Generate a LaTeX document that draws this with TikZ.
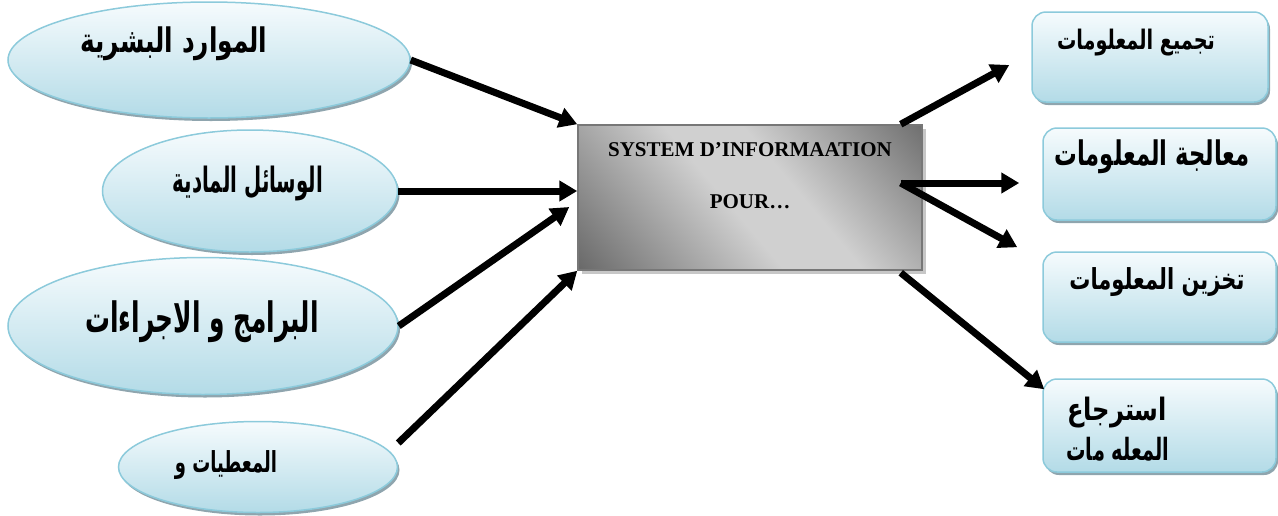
\documentclass[tikz,border=0pt]{standalone}
\usepackage{fontspec}
\usepackage{graphicx}
\setmainfont{Liberation Serif}
\newfontfamily\arabicfont[Script=Arabic]{DejaVu Sans}
\TeXXeTstate=1
\usetikzlibrary{shapes.geometric,arrows.meta,shadows,calc}
\definecolor{bord}{HTML}{8CCADB}
\definecolor{ltop}{HTML}{F6FBFD}
\definecolor{lbot}{HTML}{B3DBE7}
\definecolor{shad}{HTML}{8FA5AE}
\definecolor{sysdark}{HTML}{666666}
\definecolor{syslight}{HTML}{D0D0D0}
\definecolor{sysbord}{HTML}{777777}
\pgfdeclarehorizontalshading{sysgrad}{100bp}{color(0bp)=(sysdark); color(14bp)=(sysdark); color(46bp)=(syslight); color(58bp)=(syslight); color(88bp)=(sysdark); color(100bp)=(sysdark)}
\newcommand\arbox[3]{\resizebox*{#1pt}{#2pt}{\arabicfont\bfseries #3}}
\tikzset{
  bubble/.style={ellipse, draw=bord, line width=1.5pt, top color=ltop, bottom color=lbot,
    inner sep=0pt, drop shadow={shadow xshift=2pt, shadow yshift=-3pt, fill=shad, opacity=1}},
  card/.style={rectangle, rounded corners=14pt, draw=bord, line width=1.5pt, top color=ltop,
    bottom color=lbot, inner sep=0pt, drop shadow={shadow xshift=2pt, shadow yshift=-3pt, fill=shad, opacity=1}},
  sysbox/.style={rectangle, draw=sysbord, line width=1.5pt, inner sep=0pt,
    shading=sysgrad, shading angle=40,
    drop shadow={shadow xshift=4pt, shadow yshift=-4pt, fill=black!22, opacity=1}},
  flow/.style={line width=7pt, -{Triangle[length=18pt,width=20pt]}},
  lab/.style={inner sep=0pt},
}
\begin{document}
\begin{tikzpicture}[x=1pt,y=-1pt]
\useasboundingbox (0,0) rectangle (1278,515);
% left ellipses
\node[bubble, minimum width=402pt, minimum height=116pt] (e1) at (209,60) {};
\node[bubble, minimum width=295pt, minimum height=122pt] (e2) at (250,191) {};
\node[bubble, minimum width=390pt, minimum height=137pt] (e3) at (203,326) {};
\node[bubble, minimum width=279pt, minimum height=91pt] (e4) at (258,467) {};
\node[lab] (t1) at (174,44) {\arbox{187}{34}{\beginR الموارد البشرية\endR}};
\node[lab] (t2) at (248,184) {\arbox{150}{35}{\beginR الوسائل المادية\endR}};
\node[lab] (t3) at (202,322) {\arbox{233}{42}{\beginR البرامج و الاجراءات\endR}};
\node[lab] (t4) at (226,465) {\arbox{102}{29}{\beginR المعطيات و\endR}};
% central box
\node[sysbox, minimum width=344pt, minimum height=145pt] (sys) at (750,197.5) {};
\node[lab, align=center, font=\bfseries\fontsize{21}{25}\selectfont] (systxt) at (750,176)
  {SYSTEM D’INFORMAATION\\[27pt]POUR…};
% right boxes
\node[card, minimum width=236pt, minimum height=90pt] (b1) at (1150,57) {};
\node[card, minimum width=233pt, minimum height=92pt] (b2) at (1159.5,174) {};
\node[card, minimum width=233pt, minimum height=90pt] (b3) at (1159.5,297) {};
\node[card, minimum width=233pt, minimum height=93pt] (b4) at (1159.5,425.5) {};
\node[lab] (s1) at (1136,43) {\arbox{158}{27}{\beginR تجميع المعلومات\endR}};
\node[lab] (s2) at (1152,157) {\arbox{195}{34}{\beginR معالجة المعلومات\endR}};
\node[lab] (s3) at (1157,282) {\arbox{175}{29}{\beginR تخزين المعلومات\endR}};
\node[lab] (s4a) at (1117,413) {\arbox{100}{31}{\beginR استرجاع\endR}};
\node[lab] (s4b) at (1118,449) {\arbox{103}{24}{\beginR المعله مات\endR}};
% connectors in
\draw[flow] (e1.east) -- (sys.north west);
\draw[flow] (e2.east) -- (e2.east -| sys.west);
\draw[flow] (e3.east) -- ($(sys.west)+(-8,9.5)$);
\draw[flow] ($(e4.east)+(0,-24)$) -- (sys.south west);
% connectors out
\coordinate (hub) at ($(sys.east)+(-22,-14.5)$);
\draw[flow] ($(sys.north east)+(-22,0)$) -- ($(b1.west)+(-22,8)$);
\draw[flow] (hub) -- ($(b2.west)+(-23,9)$);
\draw[flow] (hub) -- ($(b3.north west)+(-25,-4)$);
\draw[flow] ($(sys.south east)+(-22,2)$) -- ($(b4.north west)+(2,11)$);
\end{tikzpicture}
\end{document}
